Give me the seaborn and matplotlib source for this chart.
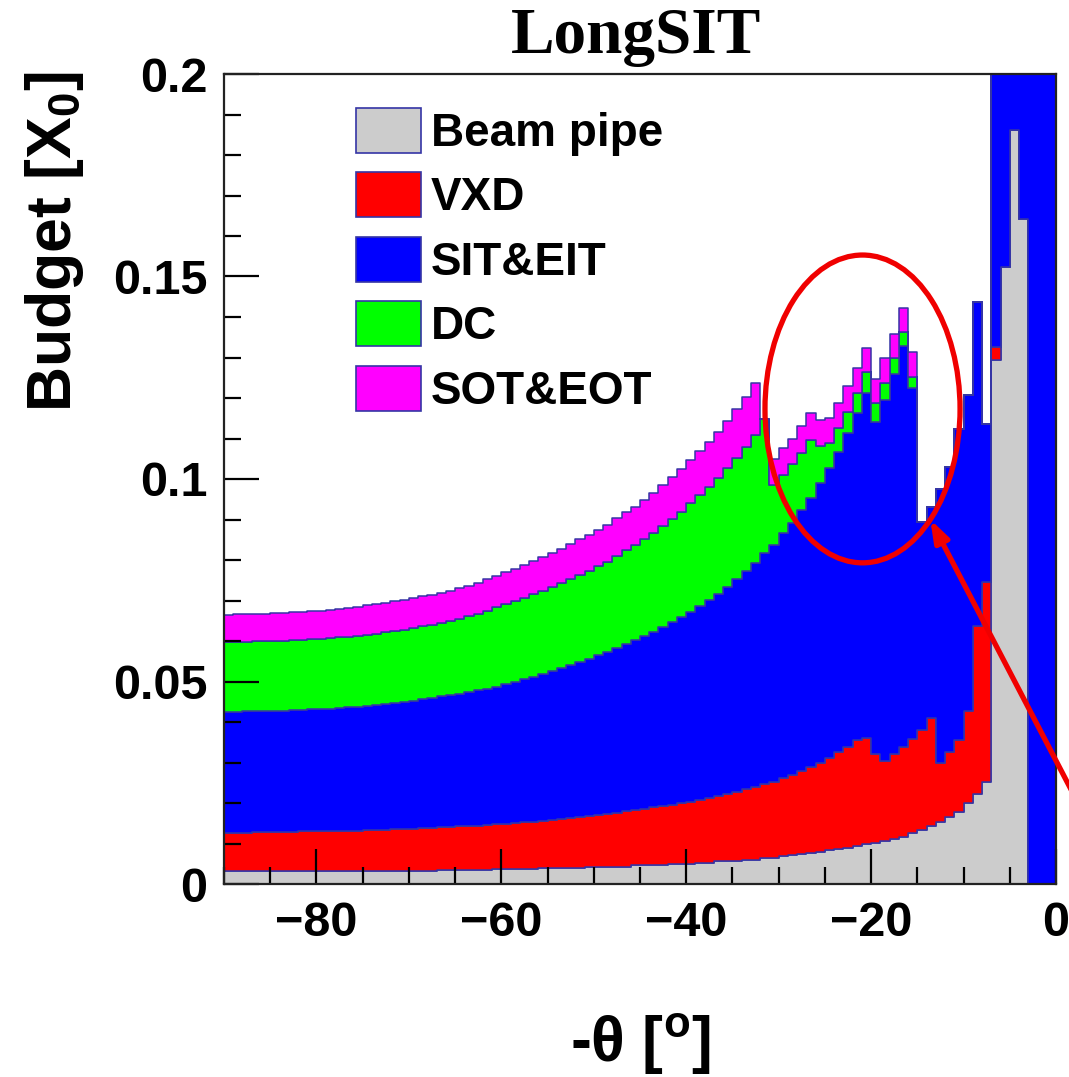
import numpy as np
import pandas as pd
import matplotlib
matplotlib.use("Agg")
import matplotlib.pyplot as plt
import seaborn as sns
from matplotlib.patches import Ellipse, Patch
from matplotlib.ticker import MultipleLocator, FuncFormatter

# ---------------- data (cumulative stack tops per 1-degree bin, -90..0) ----------------
bin_edges = np.arange(-90, 1, 1)
theta = bin_edges[:-1] + 0.5

detectors = ["Beam pipe", "VXD", "SIT&EIT", "DC", "SOT&EOT"]
colors = ["#CCCCCC", "#FF0000", "#0000FF", "#00FF00", "#FF00FF"]

top_beam = [0.0033, 0.0033, 0.0033, 0.0033, 0.0033, 0.0033, 0.0033, 0.0033, 0.0033, 0.0033,
            0.0033, 0.0033, 0.0033, 0.0033, 0.0033, 0.0033, 0.0033, 0.0033, 0.0033, 0.0033,
            0.0033, 0.0033, 0.0033, 0.0034, 0.0035, 0.0035, 0.0035, 0.0035, 0.0035, 0.0036,
            0.0036, 0.0036, 0.0036, 0.0038, 0.0040, 0.0040, 0.0040, 0.0040, 0.0040, 0.0043,
            0.0043, 0.0043, 0.0043, 0.0043, 0.0046, 0.0046, 0.0046, 0.0046, 0.0050, 0.0050,
            0.0050, 0.0053, 0.0053, 0.0056, 0.0056, 0.0056, 0.0059, 0.0059, 0.0063, 0.0065,
            0.0068, 0.0071, 0.0073, 0.0077, 0.0080, 0.0083, 0.0087, 0.0090, 0.0094, 0.0098,
            0.0102, 0.0107, 0.0112, 0.0117, 0.0125, 0.0134, 0.0144, 0.0154, 0.0166, 0.0179,
            0.0199, 0.0222, 0.0253, 0.1294, 0.1523, 0.1862, 0.1643, 0.0, 0.0, 0.0]

top_vxd = [0.0127, 0.0127, 0.0127, 0.0128, 0.0128, 0.0129, 0.0129, 0.0129, 0.0130, 0.0130,
           0.0130, 0.0131, 0.0131, 0.0132, 0.0132, 0.0133, 0.0133, 0.0134, 0.0135, 0.0136,
           0.0137, 0.0138, 0.0139, 0.0140, 0.0141, 0.0142, 0.0143, 0.0144, 0.0146, 0.0147,
           0.0149, 0.0150, 0.0152, 0.0154, 0.0156, 0.0158, 0.0160, 0.0163, 0.0165, 0.0167,
           0.0170, 0.0173, 0.0176, 0.0180, 0.0183, 0.0186, 0.0189, 0.0193, 0.0196, 0.0199,
           0.0203, 0.0207, 0.0212, 0.0217, 0.0221, 0.0227, 0.0234, 0.0240, 0.0247, 0.0253,
           0.0262, 0.0270, 0.0279, 0.0289, 0.0299, 0.0312, 0.0325, 0.0339, 0.0355, 0.0361,
           0.0322, 0.0304, 0.0320, 0.0339, 0.0358, 0.0380, 0.0410, 0.0300, 0.0326, 0.0356,
           0.0427, 0.0637, 0.0745, 0.1327, 0.1523, 0.1862, 0.1643, 0.0, 0.0, 0.0]

top_sit = [0.0425, 0.0425, 0.0426, 0.0426, 0.0427, 0.0427, 0.0428, 0.0429, 0.0430, 0.0431,
           0.0432, 0.0433, 0.0434, 0.0436, 0.0438, 0.0440, 0.0442, 0.0444, 0.0447, 0.0450,
           0.0453, 0.0456, 0.0459, 0.0463, 0.0466, 0.0470, 0.0474, 0.0478, 0.0482, 0.0487,
           0.0494, 0.0500, 0.0505, 0.0512, 0.0519, 0.0525, 0.0533, 0.0541, 0.0548, 0.0556,
           0.0565, 0.0574, 0.0583, 0.0593, 0.0602, 0.0613, 0.0623, 0.0635, 0.0648, 0.0660,
           0.0672, 0.0686, 0.0701, 0.0716, 0.0734, 0.0752, 0.0773, 0.0793, 0.0817, 0.0838,
           0.0867, 0.0891, 0.0923, 0.0952, 0.0989, 0.1026, 0.1067, 0.1113, 0.1162, 0.1213,
           0.1140, 0.1195, 0.1259, 0.1328, 0.1224, 0.0895, 0.0930, 0.0975, 0.1030, 0.1123,
           0.1208, 0.1436, 0.1136, 0.25, 0.25, 0.25, 0.25, 0.25, 0.25, 0.25]

top_dc = [0.0597, 0.0598, 0.0598, 0.0599, 0.0599, 0.0600, 0.0601, 0.0602, 0.0603, 0.0604,
          0.0606, 0.0607, 0.0609, 0.0611, 0.0613, 0.0615, 0.0618, 0.0621, 0.0624, 0.0628,
          0.0632, 0.0636, 0.0640, 0.0645, 0.0650, 0.0655, 0.0661, 0.0667, 0.0674, 0.0683,
          0.0691, 0.0698, 0.0707, 0.0716, 0.0724, 0.0734, 0.0743, 0.0753, 0.0764, 0.0774,
          0.0785, 0.0796, 0.0811, 0.0824, 0.0837, 0.0852, 0.0866, 0.0883, 0.0901, 0.0919,
          0.0940, 0.0960, 0.0980, 0.1002, 0.1026, 0.1053, 0.1080, 0.1109, 0.1147, 0.0985,
          0.1010, 0.1037, 0.1065, 0.1096, 0.1082, 0.1088, 0.1125, 0.1165, 0.1212, 0.1265,
          0.1187, 0.1238, 0.1298, 0.1362, 0.1251, 0.0895, 0.0930, 0.0975, 0.1030, 0.1123,
          0.1208, 0.1436, 0.1136, 0.25, 0.25, 0.25, 0.25, 0.25, 0.25, 0.25]

top_sot = [0.0665, 0.0666, 0.0666, 0.0667, 0.0667, 0.0668, 0.0669, 0.0671, 0.0672, 0.0674,
           0.0675, 0.0677, 0.0679, 0.0682, 0.0685, 0.0688, 0.0691, 0.0694, 0.0698, 0.0702,
           0.0706, 0.0710, 0.0714, 0.0719, 0.0724, 0.0730, 0.0736, 0.0743, 0.0752, 0.0761,
           0.0770, 0.0778, 0.0788, 0.0798, 0.0807, 0.0818, 0.0828, 0.0839, 0.0851, 0.0862,
           0.0874, 0.0887, 0.0903, 0.0918, 0.0932, 0.0949, 0.0965, 0.0984, 0.1004, 0.1024,
           0.1047, 0.1070, 0.1092, 0.1117, 0.1144, 0.1173, 0.1203, 0.1236, 0.1147, 0.1049,
           0.1076, 0.1100, 0.1131, 0.1164, 0.1146, 0.1151, 0.1187, 0.1230, 0.1275, 0.1324,
           0.1246, 0.1298, 0.1358, 0.1423, 0.1313, 0.0895, 0.0930, 0.0975, 0.1030, 0.1123,
           0.1208, 0.1436, 0.1136, 0.25, 0.25, 0.25, 0.25, 0.25, 0.25, 0.25]

title_text = "LongSIT"
xlabel_text = r"-$\mathbf{\theta}$ [$^{\mathbf{o}}$]"
ylabel_text = r"Budget [X$_{\mathbf{0}}$]"

# ---------------- build long table of per-detector contributions ----------------
frames = []
prev = np.zeros(len(theta))
for name, top in zip(detectors, [top_beam, top_vxd, top_sit, top_dc, top_sot]):
    top = np.asarray(top, dtype=float)
    frames.append(pd.DataFrame({"theta": theta, "budget": top - prev, "detector": name}))
    prev = top
df = pd.concat(frames, ignore_index=True)

# ---------------- figure ----------------
W, H = 1069, 1077
fig = plt.figure(figsize=(W / 100, H / 100), dpi=100)
plt.rcParams["mathtext.fontset"] = "custom"
plt.rcParams["mathtext.bf"] = "Liberation Sans:bold"
plt.rcParams["mathtext.rm"] = "Liberation Sans:bold"
plt.rcParams["mathtext.it"] = "Liberation Sans:bold"
SANS = ["Liberation Sans", "DejaVu Sans"]
plt.rcParams["font.family"] = SANS

L, R, T, B = 224, 1056, 74, 884
ax = fig.add_axes([L / W, 1 - B / H, (R - L) / W, (B - T) / H])

EDGE = "#3535A5"
sns.histplot(data=df, x="theta", weights="budget", hue="detector",
             hue_order=detectors[::-1], palette=dict(zip(detectors, colors)),
             multiple="stack", binwidth=1, binrange=(-90, 0), element="step", fill=True,
             alpha=1, edgecolor=EDGE, linewidth=1.1, legend=False, ax=ax)

ax.set_xlim(-90, 0)
ax.set_ylim(0, 0.2)
ax.set_xlabel("")
ax.set_ylabel("")
ax.xaxis.set_major_locator(MultipleLocator(20))
ax.xaxis.set_minor_locator(MultipleLocator(5))
ax.yaxis.set_major_locator(MultipleLocator(0.05))
ax.yaxis.set_minor_locator(MultipleLocator(0.01))
ax.yaxis.set_major_formatter(FuncFormatter(lambda v, p: "%g" % round(v, 3)))
ax.tick_params(which="major", direction="in", length=25, width=1.6,
               top=False, right=False, labelsize=35, pad=12)
ax.tick_params(which="minor", direction="in", length=12, width=1.6,
               top=False, right=False)
for lab in ax.get_xticklabels() + ax.get_yticklabels():
    lab.set_fontweight("bold")
for sp in ax.spines.values():
    sp.set_linewidth(1.6)
    sp.set_color("#222222")
    sp.set_zorder(5)

# legend
handles = [Patch(facecolor=c, edgecolor=EDGE, linewidth=1.2) for c in colors]
leg = ax.legend(handles, detectors, loc="upper left",
                bbox_to_anchor=((356 - L) / (R - L), (B - 108) / (B - T)),
                frameon=False, borderpad=0, borderaxespad=0,
                handlelength=1.42, handleheight=1.13, handletextpad=0.22,
                labelspacing=0.36, prop={"family": SANS, "weight": "bold", "size": 33})

# annotation: ellipse and arrow
ell_center, ell_w, ell_h = (-20.93, 0.1173), 21.1, 0.076
ax.add_patch(Ellipse(ell_center, ell_w, ell_h, fill=False, edgecolor="#F00000",
                     linewidth=3.8, zorder=6))
arrow_tip, arrow_tail = (-13.6, 0.0900), (2.0, 0.0217)
ax.annotate("", xy=arrow_tip, xytext=arrow_tail, annotation_clip=False,
            arrowprops=dict(arrowstyle="-|>,head_length=1.3,head_width=0.45",
                            color="#F00000", lw=3.8, shrinkA=0, shrinkB=0),
            zorder=6)

# titles
fig.text(636 / W, 1 - 37 / H, title_text, ha="center", va="center",
         family=["Liberation Serif", "DejaVu Serif"], weight="bold", fontsize=47)
fig.text(640 / W, 1 - 1045 / H, xlabel_text, ha="center", va="center",
         family=SANS, weight="bold", fontsize=45)
fig.text(55 / W, 1 - 242 / H, ylabel_text, ha="center", va="center", rotation=90,
         family=SANS, weight="bold", fontsize=45)

fig.savefig("out.png", dpi=100)
